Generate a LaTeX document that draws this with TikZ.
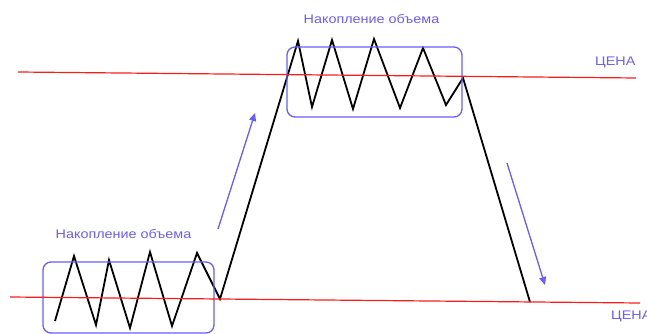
\documentclass[tikz,border=0pt]{standalone}
\usepackage{fontspec}
\newfontfamily\chartfont[FakeStretch=1.15]{Liberation Sans}
\usetikzlibrary{arrows.meta}
\definecolor{pblue}{HTML}{6B5CFF}
\definecolor{pred}{HTML}{FF1A1A}

\begin{document}
\begin{tikzpicture}[x=1pt, y=-1pt,
  level/.style={draw=pred, line width=1.2pt},
  price/.style={draw=black, line width=1.8pt, line join=miter},
  zone/.style={draw=pblue, line width=1.3pt, rounded corners=8pt, inner sep=0pt},
  trend/.style={-{Triangle[length=8pt,width=7pt]}, draw=pblue, fill=pblue, line width=1.3pt},
  lbl/.style={text=pblue, font=\chartfont\fontsize{12.5}{13}\selectfont, inner sep=0pt}]
  \useasboundingbox (0,0) rectangle (647,334);
  % price movement
  \draw[price] (55,321) -- (74,256) -- (96,325) -- (109,260) -- (130,328)
    -- (150,252) -- (172,326) -- (197,253) -- (220,299)
    -- (298,41) -- (312,107) -- (332,40) -- (353,109) -- (374,39)
    -- (400,108) -- (423,48) -- (446,105) -- (463,78) -- (530,302);
  % accumulation zones
  \node[zone, minimum width=171pt, minimum height=71pt] (accLow) at (128.5,297.5) {};
  \node[zone, minimum width=175pt, minimum height=70pt] (accHigh) at (374.5,82) {};
  \node[lbl] (accLowLbl) at (123.5,234) {Накопление объема};
  \node[lbl] (accHighLbl) at (371.5,19) {Накопление объема};
  % price levels
  \draw[level] (18,72) -- (636,78);
  \draw[level] (10,297) -- (640,303);
  \node[lbl, anchor=west] (topLbl) at (595,62) {ЦЕНА};
  \node[lbl, anchor=west] (lowLbl) at (611,316) {ЦЕНА};
  % trend arrows
  \draw[trend] (218,229) -- (255,113);
  \draw[trend] (507,163) -- (545,285);
\end{tikzpicture}
\end{document}
